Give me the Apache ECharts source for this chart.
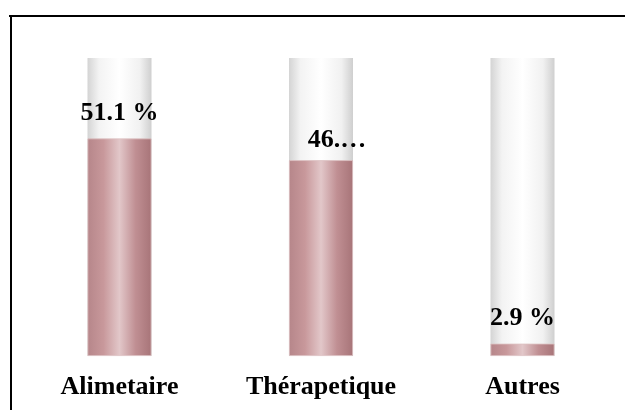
<!DOCTYPE html>
<html>
<head>
<meta charset="utf-8">
<script src="https://cdn.jsdelivr.net/npm/echarts@6/dist/echarts.min.js"></script>
<style>
  html, body { margin: 0; padding: 0; background: #ffffff; }
  #chart { width: 625px; height: 410px; }
</style>
</head>
<body>
<div id="chart"></div>
<script>
// Share of uses, per category (percent)
const categories = ['Alimetaire', 'Thérapetique', 'Autres'];
const shares = [51.1, 46.0, 2.9];
const axisMax = 70;

const serifFont = '"Liberation Serif", "Times New Roman", Times, serif';

const chart = echarts.init(document.getElementById('chart'), null, { renderer: 'canvas' });

// Pale cylinder behind each bar
const tubeGradient = new echarts.graphic.LinearGradient(0, 0, 1, 0, [
  { offset: 0, color: '#d4d4d4' },
  { offset: 0.18, color: '#f3f3f3' },
  { offset: 0.5, color: '#ffffff' },
  { offset: 0.82, color: '#f1f1f1' },
  { offset: 1, color: '#cfcfcf' }
]);

// Rosy fill with a lighter band in the middle
const fillGradient = new echarts.graphic.LinearGradient(0, 0, 1, 0, [
  { offset: 0, color: '#b6868a' },
  { offset: 0.25, color: '#c8989b' },
  { offset: 0.5, color: '#e2c7c9' },
  { offset: 0.75, color: '#c08f93' },
  { offset: 1, color: '#a77478' }
]);

const barData = shares.map(function (v, i) {
  const item = { value: v };
  if (i === 1) {
    // This label is clipped to the tube width and sits a little lower
    item.label = { width: 62, overflow: 'truncate', ellipsis: '…', distance: 7, offset: [16, 0] };
  }
  return item;
});

chart.setOption({
  animation: false,
  backgroundColor: '#ffffff',
  grid: { left: 18.75, right: 1.75, top: 58, bottom: 54, containLabel: false },
  xAxis: {
    type: 'category',
    data: categories,
    axisLine: { show: false },
    axisTick: { show: false },
    splitLine: { show: false },
    axisLabel: {
      margin: 18,
      color: '#000000',
      fontFamily: serifFont,
      fontWeight: 'bold',
      fontSize: 26
    }
  },
  yAxis: {
    type: 'value',
    min: 0,
    max: axisMax,
    show: false,
    splitLine: { show: false }
  },
  series: [{
    type: 'bar',
    data: barData,
    barWidth: 64,
    showBackground: true,
    backgroundStyle: { color: tubeGradient },
    itemStyle: { color: fillGradient, borderColor: '#dcc0c2', borderWidth: 0.8 },
    label: {
      show: true,
      position: 'top',
      distance: 12,
      color: '#000000',
      fontFamily: serifFont,
      fontWeight: 'bold',
      fontSize: 26,
      formatter: function (p) { return p.value.toFixed(1) + ' %'; }
    }
  }],
  graphic: [
    { type: 'line', shape: { x1: 9, y1: 16, x2: 625, y2: 16 }, style: { stroke: '#000000', lineWidth: 2 } },
    { type: 'line', shape: { x1: 11, y1: 15, x2: 11, y2: 410 }, style: { stroke: '#000000', lineWidth: 2 } }
  ]
});
</script>
</body>
</html>
